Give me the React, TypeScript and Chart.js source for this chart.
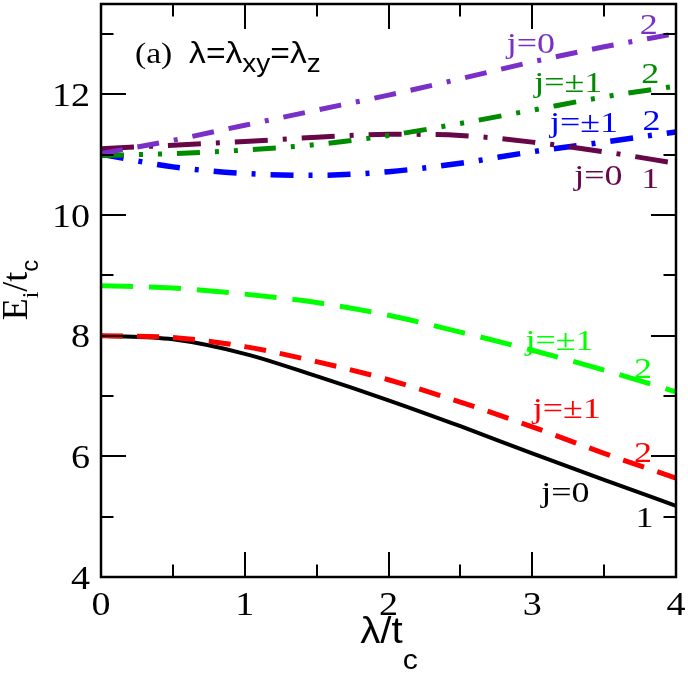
import { useEffect, useRef } from "react";
import { Chart, registerables } from "chart.js";

Chart.register(...registerables);

// Coupling strength λ/t_c
const lambdaValues = [0, 0.5, 1, 1.5, 2, 2.5, 3, 3.5, 4];

// Energy levels E_i/t_c
const lowJ0 = [8.0, 7.94, 7.7, 7.33, 6.93, 6.5, 6.05, 5.61, 5.18];
const lowJpm1 = [8.0, 7.97, 7.82, 7.57, 7.27, 6.9, 6.49, 6.05, 5.64];
const midJpm1 = [8.83, 8.79, 8.69, 8.55, 8.34, 8.06, 7.76, 7.43, 7.07];
const highJpm1A = [11.01, 10.8, 10.69, 10.66, 10.72, 10.86, 11.05, 11.21, 11.38];
const highJ0A = [11.1, 11.16, 11.22, 11.29, 11.34, 11.32, 11.21, 11.05, 10.86];
const highJpm1B = [10.99, 11.02, 11.08, 11.17, 11.32, 11.52, 11.74, 11.96, 12.14];
const highJ0B = [11.02, 11.24, 11.49, 11.74, 11.99, 12.26, 12.54, 12.79, 13.01];

// Axis ticks
const xTicks = [0, 1, 2, 3, 4];
const xMinorTicks = [0.5, 1.5, 2.5, 3.5];
const yTicks = [4, 6, 8, 10, 12];
const yMinorTicks = [5, 7, 9, 11, 13];
const xRange = [0, 4];
const yRange = [4, 13.5];

// Curve labels (centred on x, baseline at y)
const labelText = ["j=0", "2", "j=±1", "2", "j=±1", "2", "j=0", "1", "j=±1", "2", "j=±1", "2", "j=0", "1"];
const labelX = [2.99, 3.81, 3.25, 3.82, 3.36, 3.83, 3.46, 3.82, 3.19, 3.77, 3.24, 3.77, 3.23, 3.78];
const labelY = [12.68, 13.01, 12.04, 12.19, 11.37, 11.41, 10.5, 10.45, 7.76, 7.3, 6.63, 5.91, 5.24, 4.83];

const PURPLE = "#7a30c8";
const DKGREEN = "#008b00";
const BLUE = "#0000ff";
const MAROON = "#670748";
const LIME = "#00ff00";
const RED = "#ff0000";
const BLACK = "#000000";

const labelColor = [PURPLE, PURPLE, DKGREEN, DKGREEN, BLUE, BLUE, MAROON, MAROON, LIME, LIME, RED, RED, BLACK, BLACK];

const SERIF = '"Liberation Serif", "Times New Roman", serif';
const SANS = '"Liberation Sans", Arial, sans-serif';
const SX = 1.12;

type Part = { t: string; font: string; dy?: number };

function richWidth(ctx: CanvasRenderingContext2D, parts: Part[], sx: number) {
  let w = 0;
  for (const p of parts) {
    ctx.font = p.font;
    w += ctx.measureText(p.t).width * sx;
  }
  return w;
}

function drawRich(
  ctx: CanvasRenderingContext2D,
  parts: Part[],
  x: number,
  y: number,
  align: "left" | "center" | "right",
  color: string,
  sx = SX
) {
  ctx.save();
  const w = richWidth(ctx, parts, sx);
  let cx = align === "center" ? x - w / 2 : align === "right" ? x - w : x;
  ctx.fillStyle = color;
  ctx.textAlign = "left";
  ctx.textBaseline = "alphabetic";
  for (const p of parts) {
    ctx.font = p.font;
    const pw = ctx.measureText(p.t).width * sx;
    ctx.save();
    ctx.translate(cx, y + (p.dy || 0));
    ctx.scale(sx, 1);
    ctx.fillText(p.t, 0, 0);
    ctx.restore();
    cx += pw;
  }
  ctx.restore();
}

const seriesList = [
  { data: highJ0B, color: PURPLE, dash: [22, 15, 22, 15, 4, 15], width: 5 },
  { data: highJpm1B, color: DKGREEN, dash: [23, 15, 4, 15, 4, 15], width: 5 },
  { data: highJ0A, color: MAROON, dash: [33, 15, 4, 15], width: 5 },
  { data: highJpm1A, color: BLUE, dash: [23, 15, 4, 15], width: 5.5 },
  { data: midJpm1, color: LIME, dash: [32, 16], width: 5 },
  { data: lowJpm1, color: RED, dash: [22, 14], width: 5 },
  { data: lowJ0, color: BLACK, dash: [] as number[], width: 4 },
];

const framePlugin = {
  id: "frameAndText",
  beforeDraw(chart: any) {
    const ctx = chart.ctx as CanvasRenderingContext2D;
    ctx.save();
    ctx.fillStyle = "#ffffff";
    ctx.fillRect(0, 0, chart.width, chart.height);
    ctx.restore();
  },
  afterDatasetsDraw(chart: any) {
    const ctx = chart.ctx as CanvasRenderingContext2D;
    const { left, right, top, bottom } = chart.chartArea;
    const xs = chart.scales.x;
    const ys = chart.scales.y;
    ctx.save();

    // ticks pointing inward on all four sides
    ctx.strokeStyle = "#000";
    ctx.lineWidth = 2;
    ctx.lineCap = "butt";
    const major = 25;
    const minor = 12.5;
    const tickX = (v: number, len: number) => {
      const px = Math.round(xs.getPixelForValue(v));
      ctx.beginPath();
      ctx.moveTo(px, bottom);
      ctx.lineTo(px, bottom - len);
      ctx.moveTo(px, top);
      ctx.lineTo(px, top + len);
      ctx.stroke();
    };
    const tickY = (v: number, len: number) => {
      const py = Math.round(ys.getPixelForValue(v));
      ctx.beginPath();
      ctx.moveTo(left, py);
      ctx.lineTo(left + len, py);
      ctx.moveTo(right, py);
      ctx.lineTo(right - len, py);
      ctx.stroke();
    };
    xTicks.forEach((v) => tickX(v, major));
    xMinorTicks.forEach((v) => tickX(v, minor));
    yTicks.forEach((v) => tickY(v, major));
    yMinorTicks.forEach((v) => tickY(v, minor));

    // frame
    ctx.lineWidth = 2.5;
    ctx.strokeRect(left, top, right - left, bottom - top);

    // tick labels
    const tickFont = `34px ${SERIF}`;
    xTicks.forEach((v) => {
      drawRich(ctx, [{ t: String(v), font: tickFont }], xs.getPixelForValue(v), 615, "center", "#000");
    });
    yTicks.forEach((v) => {
      drawRich(ctx, [{ t: String(v), font: tickFont }], 90, ys.getPixelForValue(v) + 11.5, "right", "#000");
    });

    // axis titles
    drawRich(
      ctx,
      [
        { t: "λ/t", font: `36px ${SANS}` },
        { t: "c", font: `27px ${SANS}`, dy: 26 },
      ],
      389,
      643,
      "center",
      "#000"
    );
    ctx.save();
    ctx.translate(27, 290);
    ctx.rotate(-Math.PI / 2);
    drawRich(
      ctx,
      [
        { t: "E", font: `36px ${SERIF}` },
        { t: "i", font: `24px ${SERIF}`, dy: 11 },
        { t: "/t", font: `36px ${SERIF}` },
        { t: "c", font: `24px ${SANS}`, dy: 11 },
      ],
      0,
      0,
      "center",
      "#000",
      1
    );
    ctx.restore();

    // panel annotation
    drawRich(
      ctx,
      [
        { t: "(a)  ", font: `30px ${SERIF}` },
        { t: "λ=λ", font: `30px ${SANS}` },
        { t: "xy", font: `25px ${SANS}`, dy: 9 },
        { t: "=λ", font: `30px ${SANS}` },
        { t: "z", font: `25px ${SANS}`, dy: 9 },
      ],
      135,
      63,
      "left",
      "#000"
    );

    // curve labels
    labelText.forEach((t, i) => {
      drawRich(
        ctx,
        [{ t, font: `30px ${SERIF}` }],
        xs.getPixelForValue(labelX[i]),
        ys.getPixelForValue(labelY[i]),
        "center",
        labelColor[i],
        1.2
      );
    });

    ctx.restore();
  },
};

export default function App() {
  const ref = useRef<HTMLCanvasElement>(null);
  useEffect(() => {
    if (!ref.current) return;
    const chart = new Chart(ref.current, {
      type: "line",
      data: {
        datasets: seriesList.map((s) => ({
          data: lambdaValues.map((x, i) => ({ x, y: s.data[i] })),
          borderColor: s.color,
          backgroundColor: s.color,
          borderWidth: s.width,
          borderDash: s.dash,
          borderCapStyle: "butt" as const,
          borderJoinStyle: "round" as const,
          pointRadius: 0,
          cubicInterpolationMode: "monotone" as const,
          fill: false,
          clip: 0,
        })),
      },
      options: {
        responsive: false,
        animation: false,
        devicePixelRatio: 1,
        layout: { padding: { left: 101, right: 12, top: 4, bottom: 96 } },
        plugins: { legend: { display: false }, tooltip: { enabled: false } },
        events: [],
        scales: {
          x: { type: "linear", min: xRange[0], max: xRange[1], display: false },
          y: { type: "linear", min: yRange[0], max: yRange[1], display: false },
        },
      },
      plugins: [framePlugin],
    });
    return () => chart.destroy();
  }, []);
  return (
    <div style={{ position: "absolute", left: 0, top: 0, width: 688, height: 673, background: "#fff" }}>
      <canvas ref={ref} width={688} height={673} style={{ display: "block", width: 688, height: 673 }} />
    </div>
  );
}
